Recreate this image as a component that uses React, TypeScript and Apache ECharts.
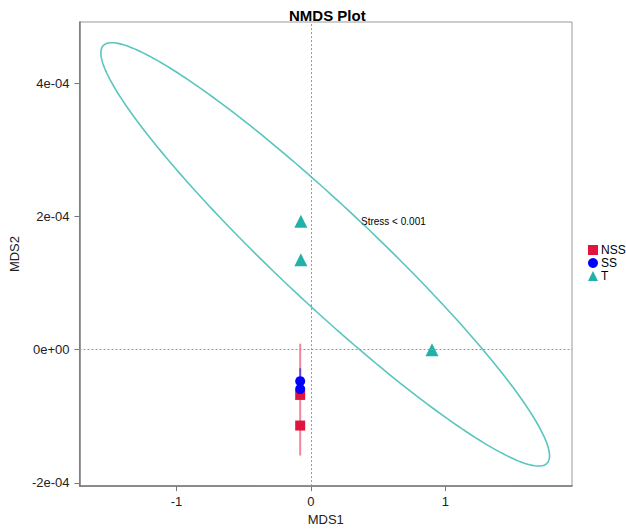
import React, { useEffect, useRef } from "react";
import * as echarts from "echarts";

// ---- data ----
const groups = ["NSS", "SS", "T"];
const groupColors = ["#E0143C", "#0000FF", "#20B2AA"];
const groupSymbols = ["rect", "circle", "triangle"];
const groupSymbolSizes = [10, 10, 13];

const nssPoints: [number, number][] = [
  [-0.08, -0.68e-4],
  [-0.08, -1.14e-4],
];
const ssPoints: [number, number][] = [
  [-0.08, -0.474e-4],
  [-0.08, -0.593e-4],
];
const tPoints: [number, number][] = [
  [-0.075, 1.926e-4],
  [-0.075, 1.348e-4],
  [0.9, 0.0],
];

// ellipse parameters: centre, conjugate half-axis vectors A (t=0) and B (t=pi/2)
const nssEllipse = { cx: -0.08, cy: -0.756e-4, ax: 0, ay: 0.845e-4, bx: 0, by: 0 };
const ssEllipse = { cx: -0.08, cy: -0.495e-4, ax: 0, ay: 0.215e-4, bx: 0, by: 0 };
const tEllipse = { cx: 0.106, cy: 1.43e-4, ax: 1.668, ay: -3.024e-4, bx: 0, by: 0.978e-4 };

const xTickValues = [-1, 0, 1];
const xTickLabels = ["-1", "0", "1"];
const yTickValues = [-2e-4, 0, 2e-4, 4e-4];
const yTickLabels = ["-2e-04", "0e+00", "2e-04", "4e-04"];

const xRange = [-1.721, 1.941];
const yRange = [-2.049e-4, 4.919e-4];

const stressText = "Stress < 0.001";

function ellipsePoints(e: { cx: number; cy: number; ax: number; ay: number; bx: number; by: number }) {
  const pts: [number, number][] = [];
  const n = 240;
  for (let i = 0; i <= n; i++) {
    const t = (i / n) * Math.PI * 2;
    pts.push([
      e.cx + e.ax * Math.cos(t) + e.bx * Math.sin(t),
      e.cy + e.ay * Math.cos(t) + e.by * Math.sin(t),
    ]);
  }
  return pts;
}

const FONT = "Liberation Sans, Arial, Helvetica, sans-serif";

export default function App() {
  const ref = useRef<HTMLDivElement>(null);
  useEffect(() => {
    if (!ref.current) return;
    const chart = echarts.init(ref.current, null, { renderer: "svg" });
    const pointSets = [nssPoints, ssPoints, tPoints];
    const ellipses = [nssEllipse, ssEllipse, tEllipse];
    const ellipseSeries = ellipses.map((e, i) => ({
      name: groups[i] + " ellipse",
      type: "line",
      data: ellipsePoints(e),
      showSymbol: false,
      symbol: "none",
      smooth: false,
      silent: true,
      z: 2,
      lineStyle: {
        color: groupColors[i],
        width: i === 2 ? 1.6 : 2,
        opacity: i === 2 ? 0.75 : 0.5,
      },
      ...(i === 0
        ? {
            markLine: {
              silent: true,
              symbol: "none",
              label: { show: false },
              lineStyle: { color: "#999", type: [2, 2], width: 1 },
              data: [{ xAxis: 0 }, { yAxis: 0 }],
            },
          }
        : {}),
    }));
    const pointSeries = pointSets.map((pts, i) => ({
      name: groups[i],
      type: "scatter",
      data: pts,
      symbol: groupSymbols[i],
      symbolSize: groupSymbolSizes[i],
      z: 3,
      itemStyle: { color: groupColors[i], opacity: 1 },
    }));

    chart.setOption({
      animation: false,
      backgroundColor: "#fff",
      textStyle: { fontFamily: FONT },
      title: {
        text: "NMDS Plot",
        left: 284,
        top: 3,
        textStyle: { fontFamily: FONT, fontSize: 15, fontWeight: "bold", color: "#000" },
      },
      legend: {
        data: groups.map((g, i) => ({ name: g, icon: groupSymbols[i] })),
        orient: "vertical",
        left: 583,
        top: 239,
        itemWidth: 10,
        itemHeight: 10,
        itemGap: 1,
        selectedMode: false,
        textStyle: { fontFamily: FONT, fontSize: 12, color: "#000", lineHeight: 12, padding: [0, 0, 0, -2] },
      },
      grid: {
        left: 72,
        right: 54,
        top: 22,
        bottom: 39,
        show: true,
        borderColor: "#999",
        borderWidth: 1,
        containLabel: false,
      },
      xAxis: {
        type: "value",
        min: xRange[0],
        max: xRange[1],
        name: "MDS1",
        nameLocation: "middle",
        nameGap: 22,
        nameTextStyle: { fontFamily: FONT, fontSize: 13, color: "#222" },
        axisLine: { show: true, onZero: false, lineStyle: { color: "#777", width: 1.5 } },
        axisTick: { show: true, length: 5, customValues: xTickValues, lineStyle: { color: "#777" } },
        axisLabel: {
          customValues: xTickValues,
          margin: 9,
          fontFamily: FONT,
          fontSize: 13,
          color: "#222",
          formatter: (v: number) => {
            const k = xTickValues.findIndex((x) => Math.abs(x - v) < 1e-9);
            return k >= 0 ? xTickLabels[k] : "";
          },
        },
        splitLine: { show: false },
      },
      yAxis: {
        type: "value",
        min: yRange[0],
        max: yRange[1],
        name: "MDS2",
        nameLocation: "middle",
        nameGap: 50,
        nameRotate: 90,
        nameTextStyle: { fontFamily: FONT, fontSize: 13, color: "#222" },
        axisLine: { show: true, onZero: false, lineStyle: { color: "#777", width: 1.5 } },
        axisTick: { show: true, length: 5, customValues: yTickValues, lineStyle: { color: "#777" } },
        axisLabel: {
          customValues: yTickValues,
          margin: 10,
          fontFamily: FONT,
          fontSize: 13,
          color: "#222",
          formatter: (v: number) => {
            const k = yTickValues.findIndex((y) => Math.abs(y - v) < 1e-12);
            return k >= 0 ? yTickLabels[k] : "";
          },
        },
        splitLine: { show: false },
      },
      graphic: [
        {
          type: "text",
          left: 361,
          top: 216,
          silent: true,
          style: { text: stressText, font: `10px ${FONT}`, fill: "#000" },
        },
      ],
      series: [...ellipseSeries, ...pointSeries],
    });
    return () => chart.dispose();
  }, []);
  return (
    <div
      ref={ref}
      style={{ position: "fixed", left: 0, top: 0, width: 626, height: 531, background: "#fff" }}
    />
  );
}
